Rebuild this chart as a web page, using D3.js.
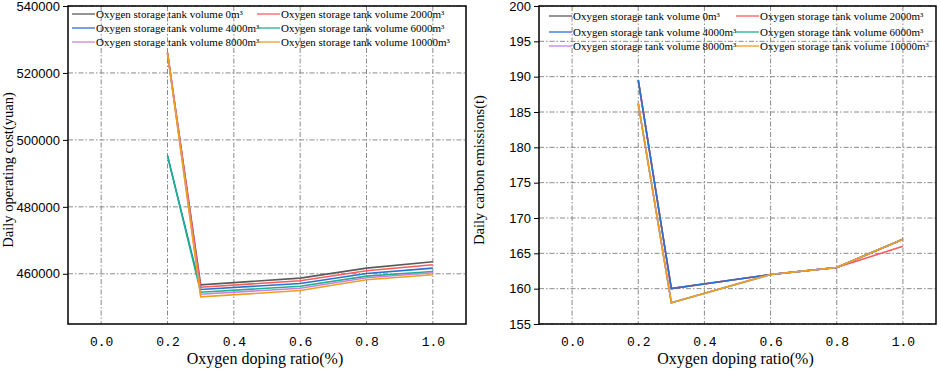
<!DOCTYPE html>
<html><head><meta charset="utf-8">
<script src="https://d3js.org/d3.v7.min.js"></script>
<style>body{margin:0;background:#fff}svg{display:block}</style>
</head><body><svg id="c" width="941" height="371"></svg>
<script>
const xValues = [0.2, 0.3, 0.6, 0.8, 1.0];
const seriesNames = ["Oxygen storage tank volume 0m³","Oxygen storage tank volume 2000m³","Oxygen storage tank volume 4000m³","Oxygen storage tank volume 6000m³","Oxygen storage tank volume 8000m³","Oxygen storage tank volume 10000m³"];
const seriesColors = ["#5a5a5a","#ff5a5a","#2a70d0","#1fb08c","#c880e0","#eda020"];
const cost0 = [526000, 456700, 458700, 461700, 463600];
const cost2000 = [526000, 456000, 457900, 460900, 462700];
const cost4000 = [495300, 455300, 457100, 460100, 461700];
const cost6000 = [495300, 454500, 456300, 459300, 460700];
const cost8000 = [526000, 453900, 455700, 458800, 460300];
const cost10000 = [526000, 453100, 455000, 458200, 459700];
const emis0 = [189.5, 160, 162, 163, 167];
const emis2000 = [189.5, 160, 162, 163, 166];
const emis4000 = [189.5, 160, 162, 163, 167];
const emis6000 = [186.2, 158, 162, 163, 167];
const emis8000 = [186.2, 158, 162, 163, 167];
const emis10000 = [186.2, 158, 162, 163, 167];
const xTicks = [0.0, 0.2, 0.4, 0.6, 0.8, 1.0];
const costTicks = [460000, 480000, 500000, 520000, 540000];
const emisTicks = [155, 160, 165, 170, 175, 180, 185, 190, 195, 200];

const svg = d3.select("#c");

function panel(o){
  const g = svg.append("g");
  const x = d3.scaleLinear().domain([-0.1, 1.1]).range([o.left, o.right]);
  const y = d3.scaleLinear().domain(o.ydom).range([o.bottom, o.top]);
  g.selectAll(".gx").data(xTicks).join("line")
    .attr("x1", d=>x(d)).attr("x2", d=>x(d)).attr("y1", o.top).attr("y2", o.bottom)
    .attr("stroke", "#8a8a8a").attr("stroke-width", 1).attr("stroke-dasharray", "5,2,1.5,2");
  g.selectAll(".gy").data(o.yticks).join("line")
    .attr("x1", o.left).attr("x2", o.right).attr("y1", d=>y(d)).attr("y2", d=>y(d))
    .attr("stroke", "#8a8a8a").attr("stroke-width", 1).attr("stroke-dasharray", "5,2,1.5,2");
  const line = d3.line().x((d,i)=>x(xValues[i])).y(d=>y(d));
  o.data.forEach((s,i)=>{
    g.append("path").attr("d", line(s)).attr("fill","none")
      .attr("stroke", seriesColors[i]).attr("stroke-width", 1.6);
  });
  g.append("rect").attr("x", o.left).attr("y", o.top)
    .attr("width", o.right-o.left).attr("height", o.bottom-o.top)
    .attr("fill","none").attr("stroke","#000").attr("stroke-width",1.5);
  const ya = d3.axisLeft(y).tickValues(o.yticks).tickSize(5).tickPadding(3).tickFormat(d3.format("d"));
  const yg = g.append("g").attr("transform", `translate(${o.left},0)`).call(ya);
  yg.select(".domain").remove();
  yg.selectAll("text").attr("font-family","Liberation Sans, Arial, sans-serif").attr("font-size",13).attr("fill","#000");
  const xa = d3.axisBottom(x).tickValues(xTicks).tickSize(0).tickPadding(13).tickFormat(d3.format(".1f"));
  const xg = g.append("g").attr("transform", `translate(0,${o.bottom})`).call(xa);
  xg.select(".domain").remove();
  xg.selectAll("text").attr("font-family","Liberation Mono, monospace").attr("font-size",13).attr("fill","#000");
  g.append("text").attr("x", (o.left+o.right)/2 - 2).attr("y", 364).attr("text-anchor","middle")
    .attr("font-family","Liberation Serif, Times New Roman, serif").attr("font-size",16).text("Oxygen  doping ratio(%)");
  g.append("text").attr("transform", `translate(${o.ytitleX},${o.ytitleY}) rotate(-90)`).attr("text-anchor","middle")
    .attr("font-family","Liberation Serif, Times New Roman, serif").attr("font-size",14.5).text(o.ytitle);
  seriesNames.forEach((n,i)=>{
    const col = i%2, row = Math.floor(i/2);
    const lx = o.legX[col], ly = o.legY[row];
    g.append("line").attr("x1", lx).attr("x2", lx+o.legLen).attr("y1", ly).attr("y2", ly)
      .attr("stroke", seriesColors[i]).attr("stroke-width", 1.3);
    g.append("text").attr("x", lx+o.legLen+1).attr("y", ly+4)
      .attr("font-family","Liberation Serif, Times New Roman, serif").attr("font-size",11).text(n);
  });
}

panel({left:68,right:466,top:6,bottom:324,ydom:[445000,540000],yticks:costTicks,
  data:[cost0,cost2000,cost4000,cost6000,cost8000,cost10000],
  ytitle:"Daily operating cost(yuan)", ytitleX:13, ytitleY:170,
  legX:[72,257], legY:[14,28,42], legLen:23});
panel({left:539,right:936,top:6,bottom:324,ydom:[155,200],yticks:emisTicks,
  data:[emis0,emis2000,emis4000,emis6000,emis8000,emis10000],
  ytitle:"Daily carbon emissions(t)", ytitleX:484, ytitleY:170,
  legX:[549,736], legY:[16,32,46], legLen:23});
</script></body></html>
